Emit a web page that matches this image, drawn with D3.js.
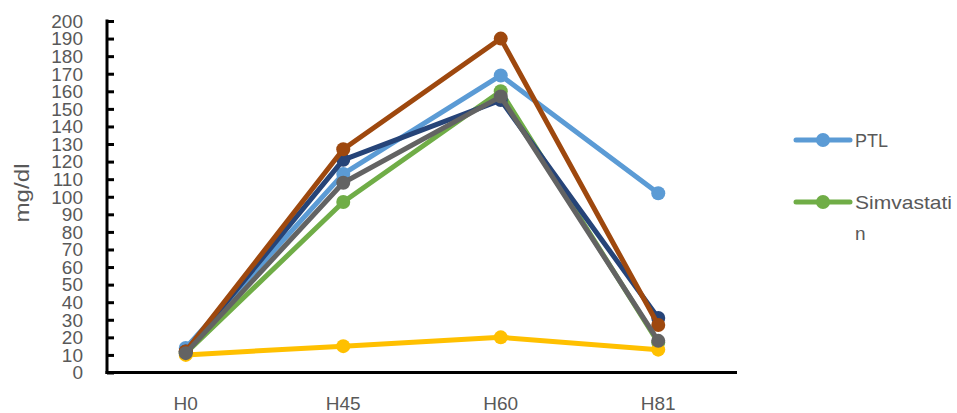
<!DOCTYPE html>
<html><head><meta charset="utf-8">
<script src="https://cdn.jsdelivr.net/npm/d3@7"></script>
<style>body{margin:0;background:#fff}svg{display:block}text{font-family:"Liberation Sans",Arial,sans-serif}</style>
</head><body><svg id="c" width="957" height="413"></svg>
<script>
const categories = ["H0","H45","H60","H81"];
const ptl        = [14, 113, 169, 102];
const simva      = [11, 97, 160, 17];
const yellowS    = [10, 15, 20, 13];
const navyS      = [12, 121, 155, 31];
const brownS     = [12, 127, 190, 27];
const greyS      = [11, 108, 157, 18];
const yTicks = d3.range(0, 201, 10);

const series = [
  {name:"PTL", values:ptl, color:"#5B9BD5"},
  {name:"Simvastatin", values:simva, color:"#70AD47"},
  {name:"S3", values:yellowS, color:"#FFC000"},
  {name:"S4", values:navyS, color:"#264478"},
  {name:"S5", values:brownS, color:"#9E480E"},
  {name:"S6", values:greyS, color:"#636363"}
];

const svg = d3.select("#c");
const x = d3.scaleBand().domain(categories).range([107,737]);
const y = d3.scaleLinear().domain([0,200]).range([372.5,21]);

// y axis
const ya = svg.append("g").attr("transform","translate(107,0)")
  .call(d3.axisRight(y).tickValues(yTicks).tickSize(7).tickFormat(""));
ya.select(".domain").remove();
ya.selectAll(".tick line").attr("stroke","#000").attr("stroke-width",3);
svg.append("line").attr("x1",107).attr("x2",107).attr("y1",y(200)-1.5).attr("y2",y(0)+1.5).attr("stroke","#000").attr("stroke-width",3);
svg.selectAll(".ylab").data(yTicks).enter().append("text")
  .attr("x",83).attr("y",d=>y(d)).attr("dy","0.36em").attr("text-anchor","end")
  .attr("font-size",19).attr("fill","#595959").text(d=>d);

// x axis
const xa = svg.append("g").attr("transform","translate(0,"+y(0)+")")
  .call(d3.axisBottom(x).tickSize(0).tickPadding(0));
xa.select(".domain").attr("stroke","#000").attr("stroke-width",3).attr("d","M105.5,0H737");
xa.selectAll(".tick text").attr("y",37).attr("dy","0").attr("font-size",19).attr("fill","#595959")
  .style("font-family","Liberation Sans, Arial, sans-serif");

// y title
svg.append("text").attr("transform","translate(22,193) rotate(-90)")
  .attr("text-anchor","middle").attr("dy","0.35em").attr("font-size",20)
  .attr("textLength",59).attr("lengthAdjust","spacingAndGlyphs")
  .attr("fill","#595959").text("mg/dl");

const line = d3.line().x((d,i)=>x(categories[i])+x.bandwidth()/2).y(d=>y(d));
series.forEach(s=>{
  const g = svg.append("g");
  g.append("path").attr("d",line(s.values)).attr("fill","none").attr("stroke",s.color)
    .attr("stroke-width",5).attr("stroke-linejoin","round").attr("stroke-linecap","round");
  g.selectAll("circle").data(s.values).enter().append("circle")
    .attr("cx",(d,i)=>x(categories[i])+x.bandwidth()/2).attr("cy",d=>y(d)).attr("r",7).attr("fill",s.color);
});

// legend
const leg = [{s:series[0], y:140, lines:["PTL"], w:[33]},{s:series[1], y:202, lines:["Simvastati","n"], w:[97,null]}];
leg.forEach(l=>{
  const g = svg.append("g");
  g.append("line").attr("x1",796).attr("x2",850).attr("y1",l.y).attr("y2",l.y)
    .attr("stroke",l.s.color).attr("stroke-width",5).attr("stroke-linecap","round");
  g.append("circle").attr("cx",823).attr("cy",l.y).attr("r",7).attr("fill",l.s.color);
  l.lines.forEach((t,i)=>{
    const tx = g.append("text").attr("x",855).attr("y",l.y+i*31).attr("dy","0.36em")
      .attr("font-size",19).attr("fill","#595959").text(t);
    if (l.w[i]) tx.attr("textLength",l.w[i]).attr("lengthAdjust","spacingAndGlyphs");
  });
});
</script></body></html>
